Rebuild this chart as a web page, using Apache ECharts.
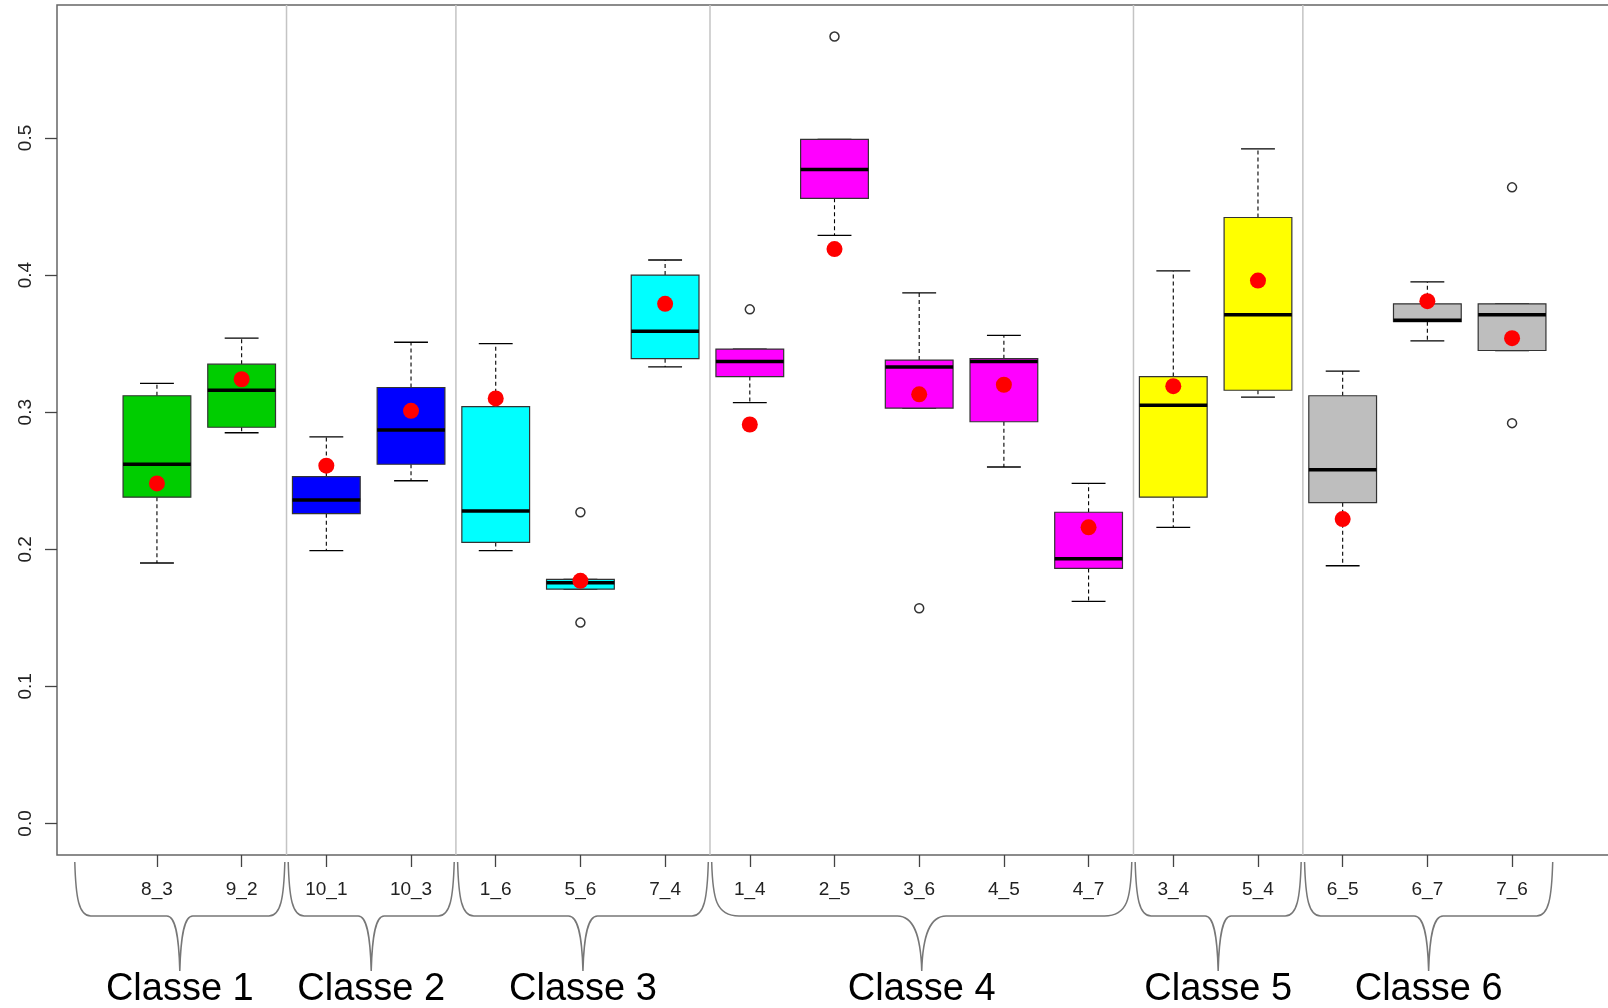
<!DOCTYPE html>
<html>
<head>
<meta charset="utf-8">
<script src="https://cdn.jsdelivr.net/npm/echarts@6/dist/echarts.min.js"></script>
<style>
html,body{margin:0;padding:0;background:#fff;}
#chart{width:1608px;height:1008px;}
</style>
</head>
<body>
<div id="chart"></div>
<script>
// ---- data ----
const categories = ['8_3','9_2','10_1','10_3','1_6','5_6','7_4','1_4','2_5','3_6','4_5','4_7','3_4','5_4','6_5','6_7','7_6'];
const classOf    = [1,1,2,2,3,3,3,4,4,4,4,4,5,5,6,6,6];
const classLabels = ['Classe 1','Classe 2','Classe 3','Classe 4','Classe 5','Classe 6'];
const classColors = ['#00CD00','#0000FF','#00FFFF','#FF00FF','#FFFF00','#BEBEBE'];

const whiskerLow  = [0.190,0.285,0.199,0.250,0.199,0.171,0.333,0.307,0.429,0.303,0.260,0.162,0.216,0.311,0.188,0.352,0.345];
const q1          = [0.238,0.289,0.226,0.262,0.205,0.171,0.339,0.326,0.456,0.303,0.293,0.186,0.238,0.316,0.234,0.366,0.345];
const median      = [0.262,0.316,0.236,0.287,0.228,0.1755,0.359,0.337,0.477,0.333,0.337,0.193,0.305,0.371,0.258,0.367,0.371];
const q3          = [0.312,0.335,0.253,0.318,0.304,0.178,0.400,0.346,0.499,0.338,0.339,0.227,0.326,0.442,0.312,0.379,0.379];
const whiskerHigh = [0.321,0.354,0.282,0.351,0.350,0.178,0.411,0.346,0.499,0.387,0.356,0.248,0.403,0.492,0.330,0.395,0.379];
const means       = [0.248,0.324,0.261,0.301,0.310,0.177,0.379,0.291,0.419,0.313,0.320,0.216,0.319,0.396,0.222,0.381,0.354];

const outlierIndex = [5,5,7,8,9,16,16];
const outlierValue = [0.227,0.1465,0.375,0.574,0.157,0.464,0.292];

const groupBounds = [2.53,4.53,7.53,12.53,14.53];
const braceStart = [0.03,2.55,4.55,7.55,12.55,14.55];
const braceEnd   = [2.51,4.51,7.51,12.51,14.51,17.48];

const yTicks = [0,0.1,0.2,0.3,0.4,0.5];
const xTicks = categories.map((c,i)=>i+1);

const Y_MIN = -0.023, Y_MAX = 0.597, X_MIN = -0.18, X_MAX = 18.18;

// ---- build ----
const boxData = categories.map((c,i)=>[i+1, whiskerLow[i], q1[i], median[i], q3[i], whiskerHigh[i], classOf[i]-1]);
const meanData = categories.map((c,i)=>[i+1, means[i]]);
const outlierData = outlierIndex.map((k,j)=>[k+1, outlierValue[j]]);
const sepData = groupBounds.map(b=>[b, Y_MIN]);
const braceData = braceStart.map((s,j)=>[s, braceEnd[j], Y_MIN, j]);

function renderBox(params, api){
  const x = api.value(0);
  const lo = api.coord([x, api.value(1)]);
  const a = api.coord([x, api.value(2)]);
  const m = api.coord([x, api.value(3)]);
  const b = api.coord([x, api.value(4)]);
  const hi = api.coord([x, api.value(5)]);
  const color = classColors[api.value(6)];
  const bw = api.size([0.8, 0])[0];
  const cw = bw/2;
  const cx = a[0];
  const dash = {stroke:'#000', lineWidth:1.1, lineDash:[4,3]};
  const cap = {stroke:'#000', lineWidth:1.3};
  return {type:'group', children:[
    {type:'line', shape:{x1:cx,y1:b[1],x2:cx,y2:hi[1]}, style:dash},
    {type:'line', shape:{x1:cx,y1:a[1],x2:cx,y2:lo[1]}, style:dash},
    {type:'line', shape:{x1:cx-cw/2,y1:hi[1],x2:cx+cw/2,y2:hi[1]}, style:cap},
    {type:'line', shape:{x1:cx-cw/2,y1:lo[1],x2:cx+cw/2,y2:lo[1]}, style:cap},
    {type:'rect', shape:{x:cx-bw/2,y:b[1],width:bw,height:a[1]-b[1]}, style:{fill:color, stroke:'#333', lineWidth:1.2}},
    {type:'line', shape:{x1:cx-bw/2,y1:m[1],x2:cx+bw/2,y2:m[1]}, style:{stroke:'#000', lineWidth:3.5}}
  ]};
}

function renderSep(params, api){
  const x = api.value(0);
  const p0 = api.coord([x, Y_MAX]);
  const p1 = api.coord([x, Y_MIN]);
  return {type:'line', shape:{x1:p0[0],y1:p0[1],x2:p1[0],y2:p1[1]}, style:{stroke:'#c4c4c4', lineWidth:1.5}};
}

function renderBrace(params, api){
  const pL = api.coord([api.value(0), Y_MIN]);
  const pR = api.coord([api.value(1), Y_MIN]);
  const L = pL[0], R = pR[0], base = pL[1];
  const T = (L+R)/2, W = R-L;
  const y0 = base+7, y1 = base+61, y2 = base+116;
  const e = Math.max(16, 0.065*W);
  const c = Math.max(13, 0.058*W);
  const d = [
    'M',L,y0,'C',L+1,y0+36,L+4,y1,L+e,y1,
    'L',T-c,y1,'C',T-c*0.35,y1,T-1,y1+18,T,y2,
    'C',T+1,y1+18,T+c*0.35,y1,T+c,y1,
    'L',R-e,y1,'C',R-4,y1,R-1,y0+36,R,y0
  ].join(' ');
  return {type:'group', children:[
    {type:'path', shape:{pathData:d}, style:{fill:null, stroke:'#777', lineWidth:1.5}},
    {type:'text', style:{text:classLabels[api.value(3)], x:T, y:base+135, align:'center', verticalAlign:'middle',
      font:'38px "Liberation Sans", Arial, sans-serif', fill:'#000'}}
  ]};
}

const chart = echarts.init(document.getElementById('chart'));
chart.setOption({
  animation:false,
  backgroundColor:'#fff',
  grid:{left:57, top:5, width:1555, height:850, show:true, borderColor:'#666', borderWidth:1.5,
    backgroundColor:'transparent', outerBoundsMode:'none', containLabel:false},
  xAxis:{
    type:'value', min:X_MIN, max:X_MAX,
    axisLine:{show:false, onZero:false},
    splitLine:{show:false},
    axisTick:{show:true, customValues:xTicks, length:12, lineStyle:{color:'#444', width:1.3}},
    axisLabel:{show:true, customValues:xTicks, margin:25, color:'#222',
      fontFamily:'"Liberation Sans", Arial, sans-serif', fontSize:19,
      formatter:v=>categories[Math.round(v)-1] || ''}
  },
  yAxis:{
    type:'value', min:Y_MIN, max:Y_MAX,
    axisLine:{show:false, onZero:false},
    splitLine:{show:false},
    axisTick:{show:true, customValues:yTicks, length:12, lineStyle:{color:'#444', width:1.3}},
    axisLabel:{show:true, customValues:yTicks, rotate:90, margin:22, color:'#222',
      fontFamily:'"Liberation Sans Narrow", "Liberation Sans", Arial, sans-serif', fontSize:19,
      formatter:v=>v.toFixed(1)}
  },
  series:[
    {type:'custom', name:'sep', data:sepData, renderItem:renderSep, silent:true, z:1},
    {type:'custom', name:'box', data:boxData, renderItem:renderBox, encode:{x:0,y:[1,2,3,4,5]}, silent:true, z:2},
    {type:'scatter', name:'outliers', data:outlierData, symbol:'circle', symbolSize:9,
      itemStyle:{color:'rgba(0,0,0,0)', borderColor:'#333', borderWidth:1.5, opacity:1}, silent:true, z:3},
    {type:'scatter', name:'means', data:meanData, symbol:'circle', symbolSize:16,
      itemStyle:{color:'#FF0000', opacity:1}, silent:true, z:4},
    {type:'custom', name:'braces', data:braceData, renderItem:renderBrace, encode:{x:[0,1], y:2}, clip:false, silent:true, z:5}
  ]
});
</script>
</body>
</html>
